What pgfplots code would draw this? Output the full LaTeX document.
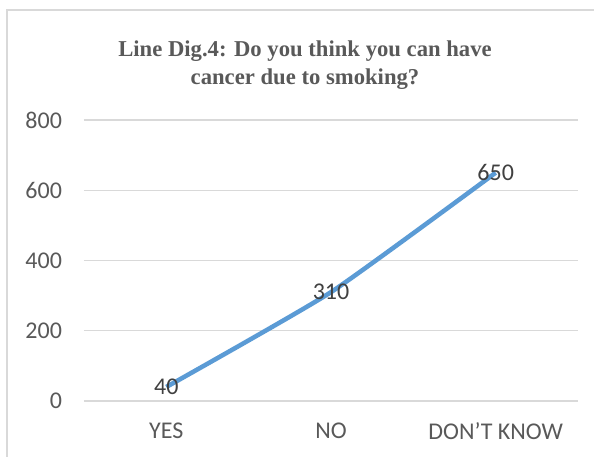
\documentclass[border=0pt]{standalone}
\usepackage{pgfplots}
\pgfplotsset{compat=1.18}
\usepackage{fontspec}
\setmainfont{Liberation Serif}
\newfontfamily\calibri{Carlito}
\definecolor{linecol}{HTML}{5B9BD5}
\definecolor{gridcol}{HTML}{D9D9D9}
\definecolor{txtcol}{HTML}{595959}
\definecolor{lblcol}{HTML}{404040}
\begin{document}
\begin{tikzpicture}
\useasboundingbox (0pt,0pt) rectangle (445.5pt,342.75pt);
\draw[gridcol, line width=1.5pt] (5.25pt,-8pt) -- (5.25pt,335.25pt) -- (455pt,335.25pt);
\node[font=\bfseries\fontsize{17}{21.5}\selectfont, text=txtcol, align=center] at (228.75pt,294pt) {Line Dig.4: Do you think you can have\\cancer due to smoking?};
\begin{axis}[
  at={(63pt,42pt)}, anchor=south west,
  scale only axis, width=370.5pt, height=210.75pt,
  xmin=-0.5, xmax=2.5, ymin=0, ymax=800,
  ytick={0,200,400,600,800},
  xtick={0,1,2}, xticklabels={YES,NO,DON’T KNOW},
  axis line style={draw=none},
  ymajorgrids, grid style={gridcol, line width=1pt},
  major tick length=0pt,
  tick label style={font=\calibri\fontsize{18}{20}\selectfont, text=txtcol},
  /pgf/number format/assume math mode=true,
  yticklabel style={xshift=-13pt},
  xticklabel style={yshift=-13pt},
  clip=false,
  every node near coord/.style={font=\calibri\fontsize{18}{20}\selectfont, text=lblcol, anchor=center},
]
\addplot[linecol, line width=3.4pt, smooth, tension=0.3, nodes near coords] coordinates {(0,40) (1,310) (2,650)};
\end{axis}
\end{tikzpicture}
\end{document}
